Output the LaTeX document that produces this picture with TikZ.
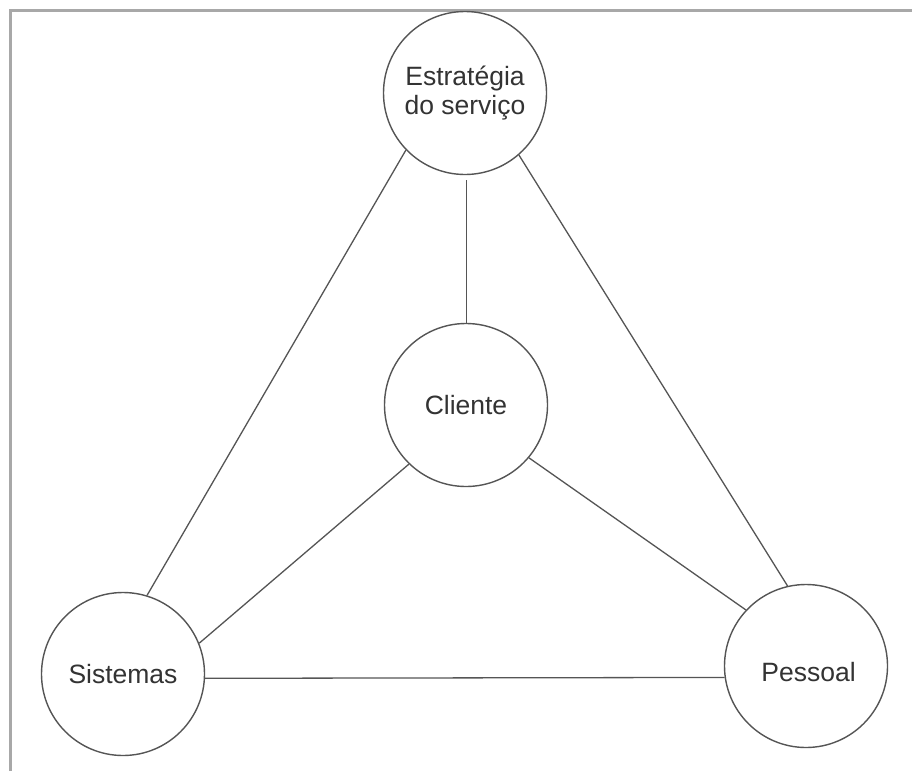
\documentclass[tikz,border=0pt]{standalone}
\usepackage{fontspec}
\setmainfont{Liberation Sans}
\definecolor{edge}{HTML}{555555}
\definecolor{frame}{HTML}{A8A8A8}
\definecolor{ink}{HTML}{333333}
\begin{document}
\begin{tikzpicture}[x=1pt,y=-1pt,
  ball/.style={circle,draw=edge,line width=1.4pt,minimum size=163pt,inner sep=0pt,
    align=center,text=ink,font=\fontsize{26.5}{29}\selectfont},
  link/.style={draw=edge,line width=1.3pt}]
\useasboundingbox (0,0) rectangle (912,771);
\fill[white] (0,0) rectangle (912,771);
% frame along the top and left
\draw[frame,line width=3pt] (10,771) -- (10,10) -- (912,10);
% the four elements
\node[ball] (top) at (465,93) {Estratégia\\do serviço};
\node[ball] (cli) at (466,405) {Cliente};
\node[ball] (sis) at (123,674) {Sistemas};
\node[ball] (pes) at (806,666) {\hspace*{5pt}\raisebox{-15pt}[0pt][0pt]{Pessoal}};
% connections
\draw[link,shorten <=5pt] (top.271) -- (top.271 |- cli.north);
\draw[link] (top.224) -- (sis.73);
\draw[link] (top.311.5) -- (pes.103);
\draw[link] (cli.226) -- (sis.22);
\draw[link] (cli.320.6) -- (pes.137);
\draw[link] (sis.-3) -- (pes.188.4);
\end{tikzpicture}
\end{document}
